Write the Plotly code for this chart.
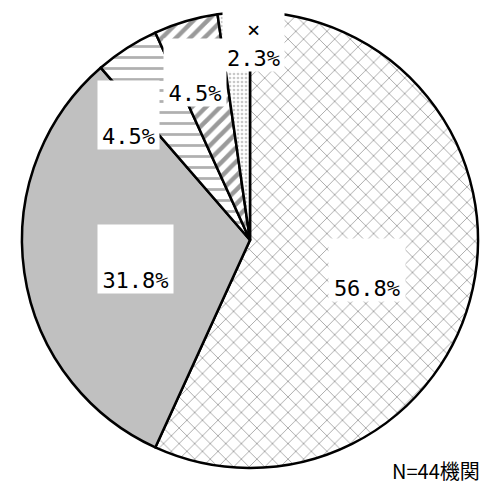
import plotly.graph_objects as go

# the page adds an 8px body margin, so the figure is drawn 8px in from the corner
OFF = 8
W, H = 497 - OFF, 490 - OFF

categories = ["A", "B", "C", "D", "E"]
counts = [25, 14, 2, 2, 1]
pct_labels = ["56.8%", "31.8%", "4.5%", "4.5%", "×<br>2.3%"]
note_text = "N=44機関"

fills = ["white", "#c0c0c0", "white", "white", "white"]
shapes = ["x", "", "-", "/", "."]
fgcolors = ["#a0a0a0", "#c0c0c0", "#b0b0b0", "#9a9a9a", "#c8c8c8"]
sizes = [11, 8, 11, 10, 4]
fills_frac = [0.15, 0.2, 0.25, 0.45, 0.35]

def px(x):
    return (x - OFF) / W

def py(y):
    return 1 - (y - OFF) / H

fig = go.Figure(go.Pie(
    labels=categories,
    values=counts,
    sort=False,
    direction="clockwise",
    rotation=0,
    textinfo="none",
    hoverinfo="none",
    showlegend=False,
    marker=dict(
        colors=fills,
        line=dict(color="black", width=2.5),
        pattern=dict(shape=shapes, fgcolor=fgcolors, bgcolor=fills,
                     size=sizes, solidity=fills_frac, fillmode="replace"),
    ),
    domain=dict(x=[px(22), px(478)], y=[py(468), py(12)]),
))

# label boxes: (left, top, width, height) in page pixels
boxes = [
    (328, 238, 76, 62),
    (97, 224, 75, 68),
    (97, 80, 61, 68),
    (163, 38, 62, 67),
    (222, 5, 61, 65),
]
annotations = []
for txt, (l, t, w, h) in zip(pct_labels, boxes):
    annotations.append(dict(
        text=txt, x=px(l), y=py(max(t, OFF)), xref="paper", yref="paper",
        xanchor="left", yanchor="top", showarrow=False,
        width=w, height=h - max(0, OFF - t), valign="bottom", align="center",
        bgcolor="white", borderpad=0,
        font=dict(family="DejaVu Sans Mono", size=22, color="black"),
    ))
annotations.append(dict(
    text=note_text, x=px(482), y=py(487), xref="paper", yref="paper",
    xanchor="right", yanchor="bottom", showarrow=False,
    font=dict(family="Noto Sans CJK JP", size=20, color="black"),
))

fig.update_layout(
    width=W, height=H,
    margin=dict(l=0, r=0, t=0, b=0),
    paper_bgcolor="white", plot_bgcolor="white",
    annotations=annotations,
)

fig.write_html("out.html")
